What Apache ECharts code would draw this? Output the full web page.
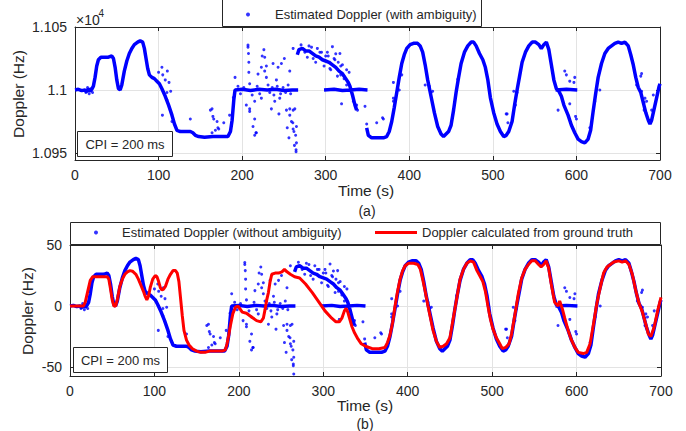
<!DOCTYPE html>
<html><head><meta charset="utf-8">
<script src="https://cdn.jsdelivr.net/npm/echarts@6/dist/echarts.min.js"></script>
<style>html,body{margin:0;padding:0;background:#fff}#c{width:686px;height:431px}</style>
</head><body><div id="c"></div>
<script>
// ---------------- DATA ----------------
// Dense estimated-Doppler trace (Hz, without ambiguity); null = break between branches
const traceTime = [
  0,4,8,12,14,16,18,20,22,24,26,28,31,35,40,44,46,48,50,52,54,56,59,62,65,68,71,75,78,81,83,85,87,89,92,95,98,101,104,108,112,116,119,122,126,130,134,138,141,144,148,155,165,175,183,186,188,190,191.5,200,210,220,230,240,250,260,267,267,
  266,268,272,276,280,284,288,292,296,300,304,308,312,316,320,324,327,329,332,335,337,337,
  298,310,320,330,340,350,350,
  349,351,355,362,369,373,376,379,382,385,388,391,394,397,401,405,410,413,416,419,422,426,430,434,438,441,444,447,450,453,456,459,462,466,470,474,477,480,484,488,491,494,497,501,505,509,513,516,519,523,526,529,532,535,539,543,547,551,555,558,561,564,567,570,573,576,579,582,585,590,594,598,602,606,610,614,617,620,623,626,630,634,638,642,646,650,654,658,662,665,668,671,674,677,680,683,686,688,690,693,696,699,700,700,
  575,588,601
];
const traceDoppler = [
  0,0.5,-0.5,0,-1.5,1,-1,0.5,3,10,19,24,26,26,26,27,25,18,8,1,0,4,15,23,29,33,36,38,39,38,33,25,17,12,10,9,7,5,1,-5,-12,-20,-27,-32,-33,-33,-33,-33,-34,-36,-37,-37.5,-37,-37,-37,-33,-24,-8,0,0.5,-0.5,0.5,0,0.5,-0.5,0,0,null,
  28,32,33,31,31,29,27,26,24,23,22,20,18,15,13,9,6,3,-4,-12,-16,null,
  0,0.5,-0.5,0,0.5,0,null,
  -30,-36,-38,-38,-38,-37,-33,-25,-14,-2,10,21,28,33,36,37,37,35,30,20,8,-5,-18,-29,-35,-37,-35,-33,-28,-16,-2,10,21,30,35,38,38,35,29,24,18,8,-6,-18,-27,-33,-37,-36,-33,-25,-12,0,11,22,30,35,38,38,36,33,36,38,32,20,8,1,-1,-5,-12,-20,-28,-34,-39,-41,-42,-39,-32,-17,-3,10,21,29,33,35,37,38,37,38,35,28,20,10,2,-2,-10,-18,-24,-27,-24,-15,-6,3,5,null,
  0,0.5,0
];
// Scattered estimated-Doppler points (Hz)
const outlierTime = [
  13,15,17,19,21,100,104,105,108,110,110.5,112.5,114.5,104.6,116,110,
  138,162,164,165,166,168,170,171,172,164,178,185,
  189.5,191.5,205,207,207,207.6,208,208,209,209,209,213,215,215,215,216.5,217,219,223,223,224,226,227,227,229,229,231,235,237,239,241,243,244,245,247,250.5,253,254,256,257,257,257,259,260.6,261,261,261,262,262.6,263,264,264.5,264.5,265,265,265,
  195,198,202,212,218,221,233,236,238,242,246,249,252,255,258,
  270.5,275,280,285,290,295,300,302,305,308,310,312,315,317,318,319,320,321.6,322,325,325,328,333,336,337,338,347,349,361,368,369,
  278,283,288,293,298,303,306,311,314,318,
  381,381,381,388,391,419,424,426,428,458,496,516,517,518,525,527,529,
  578,586,588,592,592,597,598,599,600,616,622,628,
  672,677,678,678,681,681,682,684,690,692
];
const outlierDoppler = [
  -2,2,-3,1,-2,14,18,12,8,-2,15,6,-1,-20,-25,-8,
  -23,-16,-15,-21,-23,-32,-25,-30,-31,-34,-26,-20,
  -6,10,-12,34,35.6,29,22,14,5,-17,-15,-29,-9,-23,-36,-34,-34,12.6,18,-6.5,27,32,26,15,10,19,4,-15,21,-9,8,18,-19,-6.5,21,25,-16,-30,-38,15,-15,-20,-25,-26,33,-16,-31,-33,-44,-15,-36,-47.5,-49,-29,-42,-55.7,
  3,-3,2,-4,3,-3,-2,2,-4,3,-3,2,-2,4,-3,
  35.8,30,35,25,33,30,27,30,17,34.4,25,28.7,22,29,12,-11,20,11,9,16,4,14,-9,-13.5,-12,-16,-13,-27,-26,-22,-23,
  26,34,22,30,19,27,16,24,11,19,
  6,-6.5,-9,0,12,4,3,-2,-1,8.5,-1,-19,-19,-26,-1,-12,-2,
  -16,15,12,7,-11,6,10,-21,-23,-30,-9,0,
  4,11,13,-1,-10,-16,-6.5,-9,-16,-4
];
// Doppler calculated from ground truth (Hz)
const truthTime = [
  0,12,16,18,21,24,27,32,38,44,46,48,50,52,54,56,59,62,65,68,71,74,78,81,84,87,89,91,93,95,98,101,103,105,107,109,111,113,116,119,122,125,127,129,131,133,135,138,141,145,150,155,160,165,170,175,180,184,186,188,190,193,196,199,201,204,209,215,221,226,229,231,233,235,237,239,243,247,251,254,257,261,266,272,279,287,294,302,310,315,319,322,325,327,329,331,334,337,341,345,350,358,366,373,376,379,382,385,388,391,394,397,401,407,412,415,418,421,424,427,430,434,438,442,446,450,453,456,459,462,466,470,474,478,482,486,489,492,495,498,501,505,509,512,516,520,523,527,531,535,539,543,547,551,555,558,561,564,567,570,574,578,580,583,586,590,594,598,602,608,612,616,620,624,628,632,636,640,644,650,654,658,662,666,670,674,678,682,685,688,692,696,700
];
const truthDoppler = [
  0,0,0,3,12,21,24,24,24,24,22,14,5,0,0,5,16,22,26,28,29,28.5,26,22,17,12,8,5,8,15,22,25,24,20,15,13,14,16,22,26,29,29,27,20,6,-8,-20,-28,-32,-35,-37,-38,-38,-37,-37,-37,-37,-36,-31,-24,-16,-6,-1,0,-2,-5,-6,-9,-12,-13,-10,-3,5,11,20,26,27,27,28,30,28,26,24,23,18,11,4,-4,-10,-13,-13,-10,-4,-2,-5,-10,-17,-22,-27,-31,-33,-35,-35,-34,-30,-24,-14,0,12,22,29,33,35,35,34,30,21,11,0,-10,-20,-29,-34,-33,-31,-26,-14,-2,10,22,30,35,37,36,29,24,20,12,0,-11,-19,-26,-31,-35,-34,-31,-23,-7,10,23,30,34,37,37,34,32,34,37,31,18,3,0,4,-2,-10,-20,-28,-34,-38,-39,-38,-31,-15,2,15,27,32,34,36,37,36,37,34,26,13,2,-5,-15,-23,-25,-17,-4,7
];
const ambiguityOffset = 11000;            // Hz offset of the ambiguous estimate
const xMin = 0, xMax = 700, xStep = 100;
const topYTicks = [10950, 11000, 11050];
const topYRange = [10944.4, 11050];
const bottomYTicks = [-50, 0, 50];
const bottomYRange = [-57.4, 50];

// ---------------- BUILD ----------------
const FONT = '"Liberation Sans", Arial, Helvetica, sans-serif';
const INK = '#262626';
const GRIDC = '#e3e3e3';

function tracePairs(offset) {
  return traceTime.map((t, i) => traceDoppler[i] === null ? [t, '-'] : [t, traceDoppler[i] + offset]);
}
function outlierPairs(offset) {
  return outlierTime.map((t, i) => [t, outlierDoppler[i] + offset]);
}
const truthPairs = truthTime.map((t, i) => [t, truthDoppler[i]]);

function xAxisMain(gi) {
  return {
    type: 'value', gridIndex: gi, min: xMin, max: xMax, interval: xStep,
    axisLine: { onZero: false, lineStyle: { color: INK, width: 1 } },
    axisTick: { inside: true, length: 4, lineStyle: { color: INK } },
    axisLabel: { color: INK, fontSize: 14, fontFamily: FONT, margin: 8 },
    splitLine: { show: true, lineStyle: { color: GRIDC, width: 1 } }
  };
}
function xAxisTop(gi) {
  return {
    type: 'value', gridIndex: gi, position: 'top', min: xMin, max: xMax, interval: xStep,
    axisLine: { onZero: false, lineStyle: { color: INK, width: 1 } },
    axisTick: { inside: true, length: 4, lineStyle: { color: INK } },
    axisLabel: { show: false }, splitLine: { show: false }
  };
}
function yAxisMain(gi, range, ticks, fmt) {
  return {
    type: 'value', gridIndex: gi, min: range[0], max: range[1],
    axisLine: { show: true, onZero: false, lineStyle: { color: INK, width: 1 } },
    axisTick: { show: true, inside: true, length: 4, lineStyle: { color: INK }, customValues: ticks },
    axisLabel: { color: INK, fontSize: 14, fontFamily: FONT, margin: 8, customValues: ticks, formatter: fmt },
    splitLine: { show: true, lineStyle: { color: GRIDC, width: 1 } }
  };
}
function yAxisRight(gi, range, ticks) {
  return {
    type: 'value', gridIndex: gi, position: 'right', min: range[0], max: range[1],
    axisLine: { show: true, onZero: false, lineStyle: { color: INK, width: 1 } },
    axisTick: { show: true, inside: true, length: 4, lineStyle: { color: INK }, customValues: ticks },
    axisLabel: { show: false, customValues: ticks }, splitLine: { show: false }
  };
}

const chart = echarts.init(document.getElementById('c'), null, { renderer: 'svg', width: 686, height: 431 });

const textEl = (x, y, text, size, extra) => Object.assign({
  type: 'text', x: x, y: y, z: 120,
  style: { text: text, fill: INK, font: size + 'px ' + FONT, align: 'center', verticalAlign: 'middle' }
}, extra || {});

chart.setOption({
  animation: false,
  backgroundColor: '#fff',
  grid: [
    { left: 75, top: 27, width: 585, height: 133, show: false },
    { left: 70, top: 245, width: 591, height: 131, show: false }
  ],
  xAxis: [xAxisMain(0), xAxisTop(0), xAxisMain(1), xAxisTop(1)],
  yAxis: [
    yAxisMain(0, topYRange, topYTicks, v => String(+(v / 10000).toFixed(3))),
    yAxisRight(0, topYRange, topYTicks),
    yAxisMain(1, bottomYRange, bottomYTicks, v => String(v)),
    yAxisRight(1, bottomYRange, bottomYTicks)
  ],
  legend: [
    { data: ['Estimated Doppler (with ambiguity)'], left: 246, top: 8, padding: 0,
      itemWidth: 44, itemHeight: 4, selectedMode: false,
      textStyle: { color: INK, fontSize: 13, fontFamily: FONT } },
    { data: ['Estimated Doppler (without ambiguity)'], left: 94, top: 226, padding: 0,
      itemWidth: 42, itemHeight: 4, selectedMode: false,
      textStyle: { color: INK, fontSize: 13, fontFamily: FONT } },
    { data: [{ name: 'Doppler calculated from ground truth', icon: 'rect' }], left: 375, top: 226, padding: 0,
      itemWidth: 42, itemHeight: 3, selectedMode: false,
      textStyle: { color: INK, fontSize: 13, fontFamily: FONT } }
  ],
  series: [
    { type: 'line', xAxisIndex: 0, yAxisIndex: 0, data: tracePairs(ambiguityOffset), symbol: 'none',
      lineStyle: { color: '#0000ff', width: 3.5 }, connectNulls: false, silent: true, z: 2 },
    { name: 'Estimated Doppler (with ambiguity)', type: 'scatter', xAxisIndex: 0, yAxisIndex: 0,
      data: outlierPairs(ambiguityOffset), symbol: 'circle', symbolSize: 3,
      itemStyle: { color: '#0000ff' }, silent: true, z: 3 },
    { type: 'line', xAxisIndex: 2, yAxisIndex: 2, data: tracePairs(0), symbol: 'none',
      lineStyle: { color: '#0000ff', width: 3.5 }, connectNulls: false, silent: true, z: 2 },
    { name: 'Estimated Doppler (without ambiguity)', type: 'scatter', xAxisIndex: 2, yAxisIndex: 2,
      data: outlierPairs(0), symbol: 'circle', symbolSize: 3,
      itemStyle: { color: '#0000ff' }, silent: true, z: 3 },
    { name: 'Doppler calculated from ground truth', type: 'line', xAxisIndex: 2, yAxisIndex: 2,
      data: truthPairs, symbol: 'none', showSymbol: false,
      itemStyle: { color: '#ff0000' }, lineStyle: { color: '#ff0000', width: 3 }, silent: true, z: 4 }
  ],
  graphic: [
    { type: 'rect', z: 1, shape: { x: 222.5, y: -6, width: 259, height: 32.5 },
      style: { fill: '#fff', stroke: INK, lineWidth: 1 } },
    { type: 'rect', z: 1, shape: { x: 70.5, y: 222.5, width: 590, height: 22 },
      style: { fill: '#fff', stroke: INK, lineWidth: 1 } },
    { type: 'rect', z: 110, shape: { x: 77.5, y: 131.5, width: 95, height: 25 },
      style: { fill: '#fff', stroke: INK, lineWidth: 1 } },
    { type: 'rect', z: 110, shape: { x: 73.5, y: 347.5, width: 94, height: 25 },
      style: { fill: '#fff', stroke: INK, lineWidth: 1 } },
    textEl(125, 144.5, 'CPI = 200 ms', 13),
    textEl(120.5, 360, 'CPI = 200 ms', 13),
    textEl(18.5, 94, 'Doppler (Hz)', 15.5, { rotation: Math.PI / 2 }),
    textEl(27.5, 311, 'Doppler (Hz)', 15.5, { rotation: Math.PI / 2 }),
    textEl(366, 190, 'Time (s)', 15.5),
    textEl(365, 405, 'Time (s)', 15.5),
    textEl(367, 211, '(a)', 14),
    textEl(365, 423.5, '(b)', 14),
    { type: 'text', x: 76, y: 20, z: 120,
      style: { text: '×10', fill: INK, font: '14px ' + FONT, align: 'left', verticalAlign: 'middle' } },
    { type: 'text', x: 98.5, y: 13.5, z: 120,
      style: { text: '4', fill: INK, font: '10px ' + FONT, align: 'left', verticalAlign: 'middle' } }
  ]
});
</script></body></html>
